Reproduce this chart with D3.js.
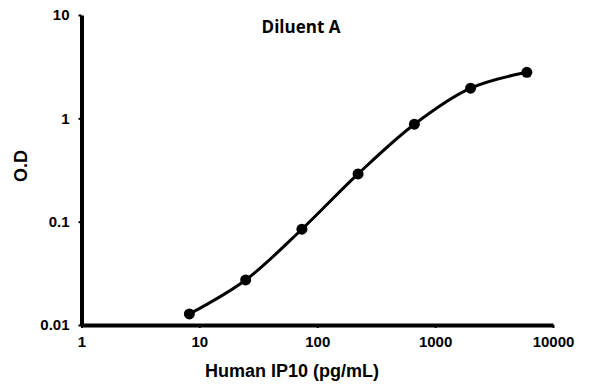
<!DOCTYPE html>
<html>
<head>
<meta charset="utf-8">
<script src="https://cdn.jsdelivr.net/npm/d3@7"></script>
<style>
    body { margin: 0; background: #fff; }
</style>
</head>
<body>
<div id="chart"></div>
<script>
// concentration (pg/mL) and optical density
var concentration = [8.23, 24.7, 74.1, 222, 667, 2000, 6000];
var od = [0.0128, 0.0273, 0.0845, 0.290, 0.877, 1.96, 2.79];
var xTicks = [1, 10, 100, 1000, 10000];
var yTicks = [0.01, 0.1, 1, 10];

var dataset = concentration.map(function (c, i) {
    return { conc: c, od: od[i] };
});

function makeChart(dataset) {
    let width = 596;
    let height = 384;
    let font = "Arial, 'Liberation Sans', sans-serif";

    var xScale = d3.scaleLog()
        .domain([1, 10000])
        .range([81.5, 553]);

    var yScale = d3.scaleLog()
        .domain([0.01, 10])
        .range([325, 15]);

    var svg = d3.select("#chart")
        .append("svg")
        .attr("width", width)
        .attr("height", height);

    // Create Axis
    let xAxis = d3.axisBottom(xScale)
        .tickValues(xTicks)
        .tickFormat(d3.format("d"))
        .tickSizeInner(3)
        .tickSizeOuter(0)
        .tickPadding(8);

    svg.append("g")
        .attr("class", "axis")
        .attr("font-size", 15)
        .attr("font-family", font)
        .attr("font-weight", "bold")
        .attr("transform", "translate(0,325)")
        .call(xAxis);

    let yAxis = d3.axisLeft(yScale)
        .tickValues(yTicks)
        .tickFormat(function (d) { return String(d); })
        .tickSizeInner(3)
        .tickSizeOuter(0)
        .tickPadding(9);

    svg.append("g")
        .attr("class", "axis")
        .attr("transform", "translate(81.5,0)")
        .call(yAxis);

    svg.selectAll(".axis")
        .attr("font-size", 15)
        .attr("font-family", font)
        .attr("font-weight", "bold");
    svg.selectAll(".axis .domain")
        .attr("stroke", "#000")
        .attr("stroke-width", 4);
    svg.selectAll(".axis .tick line")
        .attr("stroke", "#000")
        .attr("stroke-width", 2);

    // curve
    var line = d3.line()
        .x(function (d) { return xScale(d.conc); })
        .y(function (d) { return yScale(d.od); })
        .curve(d3.curveCatmullRom.alpha(0.5));

    svg.append("path")
        .datum(dataset)
        .attr("d", line)
        .attr("fill", "none")
        .attr("stroke", "#000")
        .attr("stroke-width", 3);

    svg.selectAll("circle")
        .data(dataset)
        .enter()
        .append("circle")
        .attr("cx", function (d) { return xScale(d.conc); })
        .attr("cy", function (d) { return yScale(d.od); })
        .attr("r", 5.5)
        .attr("fill", "#000");

    // title
    svg.append("text")
        .attr("x", 301)
        .attr("y", 33)
        .attr("text-anchor", "middle")
        .attr("font-family", "'Open Sans', Arial, sans-serif")
        .attr("font-weight", "bold")
        .attr("font-size", 17)
        .text("Diluent A");

    // labels
    svg.append("text")
        .attr("x", 292)
        .attr("y", 377)
        .attr("text-anchor", "middle")
        .attr("font-family", font)
        .attr("font-weight", "bold")
        .attr("font-size", 18)
        .text("Human IP10 (pg/mL)");

    svg.append("text")
        .attr("transform", "translate(27,166) rotate(-90)")
        .attr("text-anchor", "middle")
        .attr("font-family", font)
        .attr("font-weight", "bold")
        .attr("font-size", 18)
        .text("O.D");
}

makeChart(dataset);
</script>
</body>
</html>
